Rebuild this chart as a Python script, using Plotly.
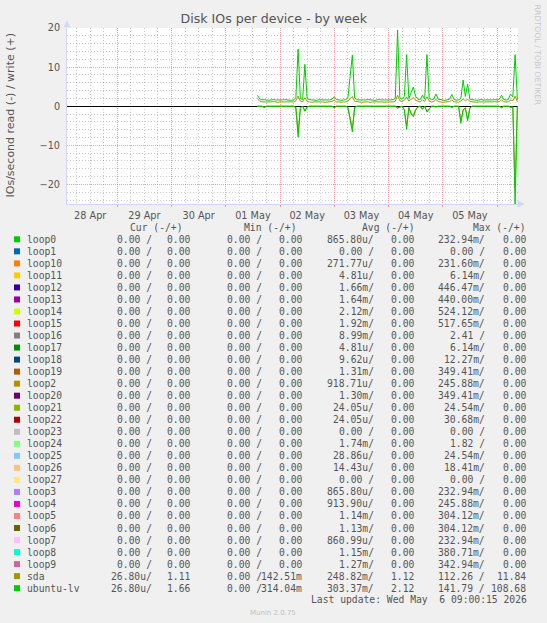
import pandas as pd
import plotly.graph_objects as go

# ---------------- data ----------------
times = pd.date_range("2026-05-01 14:00", periods=116, freq="h")

ubuntu_lv_write = [
    2.8, 1.9, 1.6, 1.7, 1.6, 1.5, 1.6, 1.7, 1.6, 1.6, 1.5, 1.6,
    1.7, 1.6, 1.6, 1.5, 1.6, 2.2, 14.6, 2.0, 1.7, 10.7, 1.9, 1.7,
    1.6, 1.6, 1.5, 1.6, 1.7, 1.6, 1.6, 1.5, 1.6, 1.8, 2.4, 1.7,
    1.6, 1.5, 1.6, 1.7, 2.0, 8.0, 13.1, 2.1, 1.7, 1.6, 1.6, 1.5,
    1.6, 1.7, 1.6, 1.6, 1.5, 1.6, 1.7, 1.6, 1.6, 1.5, 1.6, 1.6,
    1.7, 2.0, 19.5, 2.2, 1.8, 2.5, 13.2, 2.0, 3.5, 4.9, 2.5, 1.8,
    1.7, 2.8, 1.8, 13.2, 2.0, 1.7, 1.8, 3.1, 1.8, 1.6, 1.6, 1.5,
    1.6, 1.8, 3.0, 1.7, 1.6, 1.6, 2.0, 6.7, 2.5, 5.6, 1.8, 1.6,
    1.6, 1.5, 1.6, 1.7, 1.6, 1.6, 1.5, 1.6, 1.6, 1.7, 1.6, 1.8,
    2.8, 1.7, 1.6, 1.7, 3.1, 2.4, 13.2, 1.66,
]
ubuntu_lv_read = [
    0, 0, 0, -0.3, 0, 0, 0, 0, 0, 0, 0, 0,
    0, 0, 0, 0, 0, -0.4, -7.9, -0.5, 0, -1.3, -0.2, 0,
    0, 0, 0, 0, 0, 0, 0, 0, 0, 0, -0.4, 0,
    0, 0, 0, 0, -0.3, -3.5, -6.6, -0.4, 0, 0, 0, 0,
    0, 0, 0, 0, 0, 0, 0, 0, 0, 0, 0, 0,
    0, 0, -0.5, -0.2, 0, -1.0, -5.9, -0.4, -2.0, -2.7, -1.0, -0.2,
    0, -0.8, 0, -1.5, -0.6, 0, 0, -0.2, 0, 0, 0, 0,
    0, 0, -0.3, 0, 0, 0, -4.4, -1.0, -0.5, -3.8, -0.5, 0,
    0, 0, 0, 0, 0, 0, 0, 0, 0, 0, 0, 0,
    -0.4, 0, 0, 0, -0.3, -0.2, -25.0, 0.0,
]
sda_write = [
    2.0, 1.3, 1.1, 1.1, 1.0, 1.1, 1.1, 1.2, 1.1, 1.0, 1.1, 1.1,
    1.1, 1.0, 1.1, 1.1, 1.1, 1.4, 2.6, 1.3, 1.1, 2.2, 1.2, 1.1,
    1.0, 1.1, 1.1, 1.1, 1.2, 1.1, 1.0, 1.1, 1.1, 1.2, 1.6, 1.1,
    1.1, 1.0, 1.1, 1.1, 1.3, 2.0, 2.5, 1.3, 1.1, 1.1, 1.0, 1.1,
    1.1, 1.1, 1.0, 1.1, 1.1, 1.1, 1.2, 1.1, 1.0, 1.1, 1.1, 1.1,
    1.1, 1.3, 2.8, 1.4, 1.2, 1.5, 2.4, 1.3, 1.8, 2.2, 1.5, 1.2,
    1.1, 1.6, 1.2, 2.4, 1.3, 1.1, 1.2, 1.7, 1.2, 1.1, 1.0, 1.1,
    1.1, 1.2, 1.6, 1.1, 1.1, 1.0, 1.3, 1.9, 1.4, 1.8, 1.2, 1.1,
    1.1, 1.0, 1.1, 1.1, 1.1, 1.0, 1.1, 1.1, 1.1, 1.2, 1.1, 1.2,
    1.6, 1.1, 1.1, 1.1, 1.6, 1.4, 2.6, 1.11,
]
sda_read = [
    0, 0, 0, -0.25, 0, 0, 0, 0, 0, 0, 0, 0,
    0, 0, 0, 0, 0, -0.3, -6.7, -0.4, 0, -1.1, -0.2, 0,
    0, 0, 0, 0, 0, 0, 0, 0, 0, 0, -0.3, 0,
    0, 0, 0, 0, -0.25, -3.0, -5.6, -0.3, 0, 0, 0, 0,
    0, 0, 0, 0, 0, 0, 0, 0, 0, 0, 0, 0,
    0, 0, -0.4, -0.2, 0, -0.85, -5.0, -0.3, -1.7, -2.3, -0.85, -0.2,
    0, -0.7, 0, -1.3, -0.5, 0, 0, -0.2, 0, 0, 0, 0,
    0, 0, -0.25, 0, 0, 0, -3.7, -0.85, -0.4, -3.2, -0.4, 0,
    0, 0, 0, 0, 0, 0, 0, 0, 0, 0, 0, 0,
    -0.3, 0, 0, 0, -0.25, -0.2, -21.0, 0.0,
]

names = ["loop0", "loop1", "loop10", "loop11", "loop12", "loop13", "loop14", "loop15",
         "loop16", "loop17", "loop18", "loop19", "loop2", "loop20", "loop21", "loop22",
         "loop23", "loop24", "loop25", "loop26", "loop27", "loop3", "loop4", "loop5",
         "loop6", "loop7", "loop8", "loop9", "sda", "ubuntu-lv"]
colors = ["#00CC00", "#0066B3", "#FF8000", "#FFCC00", "#330099", "#990099", "#CCFF00", "#FF0000",
          "#808080", "#008F00", "#00487D", "#B35A00", "#B38F00", "#6B006B", "#8FB300", "#B30000",
          "#BEBEBE", "#80FF80", "#80C9FF", "#FFC080", "#FFE680", "#AA80FF", "#EE00CC", "#FF8080",
          "#666600", "#FFBFFF", "#00FFCC", "#CC6699", "#999900", "#00CC00"]
cur_read = ["0.00"] * 28 + ["26.80u", "26.80u"]
cur_write = ["0.00"] * 28 + ["1.11", "1.66"]
min_read = ["0.00"] * 30
min_write = ["0.00"] * 28 + ["142.51m", "314.04m"]
avg_read = ["865.80u", "0.00", "271.77u", "4.81u", "1.66m", "1.64m", "2.12m", "1.92m",
            "8.99m", "4.81u", "9.62u", "1.31m", "918.71u", "1.30m", "24.05u", "24.05u",
            "0.00", "1.74m", "28.86u", "14.43u", "0.00", "865.80u", "913.90u", "1.14m",
            "1.13m", "860.99u", "1.15m", "1.27m", "248.82m", "303.37m"]
avg_write = ["0.00"] * 28 + ["1.12", "2.12"]
max_read = ["232.94m", "0.00", "231.60m", "6.14m", "446.47m", "440.00m", "524.12m", "517.65m",
            "2.41", "6.14m", "12.27m", "349.41m", "245.88m", "349.41m", "24.54m", "30.68m",
            "0.00", "1.82", "24.54m", "18.41m", "0.00", "232.94m", "245.88m", "304.12m",
            "304.12m", "232.94m", "380.71m", "342.94m", "112.26", "141.79"]
max_write = ["0.00"] * 28 + ["11.84", "108.68"]
headers = ["Cur (-/+)", "Min (-/+)", "Avg (-/+)", "Max (-/+)"]

title = "Disk IOs per device - by week"
y_title = "IOs/second read (-) / write (+)"
last_update = "Last update: Wed May  6 09:00:15 2026"

# ---------------- layout helpers ----------------
W, H = 547, 623
PL, PR, PT, PB = 67, 518, 28, 204
NB = "\u00a0"
GREY = "#555555"
MONO = "DejaVu Sans Mono"
SANS = "DejaVu Sans"
LFS = 9.7


def px_x(px):
    return (px - PL) / (PR - PL)


def px_y(py):
    return (PB - py) / (PB - PT)


fig = go.Figure()
fig.add_trace(go.Scatter(x=times, y=sda_read, mode="lines", line=dict(color="#999900", width=1),
                         hoverinfo="skip"))
fig.add_trace(go.Scatter(x=times, y=sda_write, mode="lines", line=dict(color="#999900", width=1),
                         hoverinfo="skip"))
fig.add_trace(go.Scatter(x=times, y=ubuntu_lv_read, mode="lines", line=dict(color="#00CC00", width=1),
                         hoverinfo="skip"))
fig.add_trace(go.Scatter(x=times, y=ubuntu_lv_write, mode="lines", line=dict(color="#00CC00", width=1),
                         hoverinfo="skip"))

annotations = []
shapes = []


def ann(text, x, y, xanchor="left", size=LFS, family=MONO, color=GREY, angle=0, yanchor="middle"):
    annotations.append(dict(text=text, x=px_x(x), y=px_y(y), xref="paper", yref="paper",
                            xanchor=xanchor, yanchor=yanchor, showarrow=False, textangle=angle,
                            font=dict(family=family, size=size, color=color), borderpad=0))


# legend header
HEAD_X = [128.5, 242.5, 360.9, 471.9]
for hx, h in zip(HEAD_X, headers):
    ann(h.replace(" ", NB), hx, 227.3)

READ_R = [152.5, 263.0, 374.5, 486.0]
WRITE_R = [191.0, 302.5, 414.5, 527.0]
ROW0, ROWH = 239.3, 12.03
for i, name in enumerate(names):
    cy = ROW0 + ROWH * i
    shapes.append(dict(type="rect", xref="paper", yref="paper", x0=px_x(14), x1=px_x(20),
                       y0=px_y(cy + 3), y1=px_y(cy - 3), fillcolor=colors[i], line=dict(width=0)))
    ann(name, 26.2, cy)
    reads = [cur_read[i], min_read[i], avg_read[i], max_read[i]]
    writes = [cur_write[i], min_write[i], avg_write[i], max_write[i]]
    for g in range(4):
        r = reads[g]
        rtxt = r + ("/" if r[-1].isalpha() else NB + "/")
        ann(rtxt, READ_R[g], cy, xanchor="right")
        ann(writes[g], WRITE_R[g], cy, xanchor="right")

ann(last_update.replace(" ", NB), 527.5, 599.8, xanchor="right")
ann("Munin 2.0.75", 273, 612.5, xanchor="center", size=7, family=SANS, color="#c0c0c0")
ann(y_title, 10.5, 115, xanchor="center", size=11, family=SANS, angle=-90)
ann("RRDTOOL / TOBI OETIKER", 537.5, 55, xanchor="center", size=7.8, family=SANS,
    color="#c8c8c8", angle=90)

# axis arrows
AX = "#CFD6F8"
shapes.append(dict(type="path", xref="paper", yref="paper",
                   path=f"M {px_x(64)},{px_y(27)} L {px_x(70)},{px_y(27)} L {px_x(67)},{px_y(21)} Z",
                   fillcolor=AX, line=dict(color=AX, width=0.5)))
shapes.append(dict(type="path", xref="paper", yref="paper",
                   path=f"M {px_x(518)},{px_y(201)} L {px_x(518)},{px_y(207)} L {px_x(524)},{px_y(204)} Z",
                   fillcolor=AX, line=dict(color=AX, width=0.5)))

MAJ = "rgba(230,90,90,0.55)"
MIN = "rgba(150,150,150,0.5)"

fig.update_layout(
    width=W, height=H,
    margin=dict(l=PL, r=W - PR, t=PT, b=H - PB, pad=0),
    paper_bgcolor="#F0F0F0", plot_bgcolor="#FFFFFF",
    showlegend=False,
    title=dict(text=title, x=273.8 / W, xanchor="center", y=1 - 19 / H, yanchor="middle",
               font=dict(family=SANS, size=12.6, color=GREY)),
    xaxis=dict(type="date", range=["2026-04-28 01:45", "2026-05-06 09:17"],
               dtick=86400000, tick0="2026-04-28", tickformat="%d %b", ticklabelmode="period",
               showgrid=True, gridcolor=MAJ, griddash="1px,1px", gridwidth=1,
               minor=dict(dtick=21600000, tick0="2026-04-28", showgrid=True, gridcolor=MIN,
                          griddash="1px,2px", gridwidth=1),
               showline=True, linecolor=AX, linewidth=1, ticks="outside", ticklen=2,
               tickcolor=MAJ, zeroline=False,
               tickfont=dict(family=SANS, size=9.7, color=GREY)),
    yaxis=dict(range=[-25, 20], dtick=10, tick0=0,
               showgrid=True, gridcolor=MAJ, griddash="1px,1px", gridwidth=1,
               minor=dict(dtick=2, showgrid=True, gridcolor=MIN, griddash="1px,2px", gridwidth=1),
               showline=True, linecolor=AX, linewidth=1, ticks="outside", ticklen=4,
               tickcolor="rgba(0,0,0,0)",
               zeroline=True, zerolinecolor="#000000", zerolinewidth=1,
               tickfont=dict(family=SANS, size=9.7, color=GREY)),
    annotations=annotations,
    shapes=shapes,
)

fig.write_html("out.html", config={"displayModeBar": False},
               post_script="document.body.style.margin='0px';document.body.style.padding='0px';")
